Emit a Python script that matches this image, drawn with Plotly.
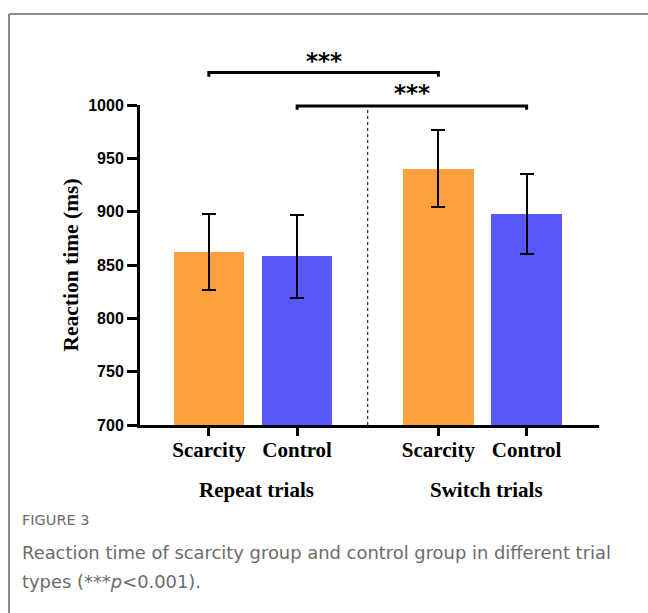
import plotly.graph_objects as go

groups = ["Repeat trials", "Switch trials"]
conditions = ["Scarcity", "Control"]
means = {"Scarcity": [862.5, 940.0], "Control": [858.0, 898.0]}
err_plus = {"Scarcity": [35.5, 37.0], "Control": [39.0, 37.0]}
err_minus = {"Scarcity": [35.5, 35.5], "Control": [38.5, 37.5]}
colors = {"Scarcity": "#FFA040", "Control": "#5858FA"}
y_ticks = [700, 750, 800, 850, 900, 950, 1000]
sig_labels = ["***", "***"]

GROUP_STEP = 2.6
def xpos(g, c):
    return 1 + g * GROUP_STEP + c

fig = go.Figure()
for ci, cond in enumerate(conditions):
    fig.add_trace(go.Bar(
        x=[xpos(g, ci) for g in range(len(groups))],
        y=means[cond],
        width=0.8,
        marker=dict(color=colors[cond], line=dict(width=0)),
        error_y=dict(type="data", array=err_plus[cond], arrayminus=err_minus[cond],
                     symmetric=False, thickness=2, width=7, color="black"),
        showlegend=False,
    ))

ymin, ymax = 700, 1000
def ydom(v):
    return (v - ymin) / (ymax - ymin)

tickvals = [xpos(g, c) for g in range(len(groups)) for c in range(len(conditions))]
ticktext = ["<b>%s</b>" % conditions[c] for g in range(len(groups)) for c in range(len(conditions))]

shapes = []
annotations = []
# significance brackets: scarcity repeat vs scarcity switch, control repeat vs control switch
brackets = [(xpos(0, 0), xpos(1, 0), 1030.5, 1026.5, 1055), (xpos(0, 1), xpos(1, 1), 999, 995.5, 1025)]
for (x0, x1, yl, ye, ya), lab in zip(brackets, sig_labels):
    shapes.append(dict(type="path", xref="x", yref="y domain",
                       path="M %f,%f L %f,%f L %f,%f L %f,%f" % (x0, ydom(ye), x0, ydom(yl), x1, ydom(yl), x1, ydom(ye)),
                       line=dict(color="black", width=3)))
    annotations.append(dict(x=(x0 + x1) / 2, y=ydom(ya), xref="x", yref="y domain", text="<b>%s</b>" % lab,
                            showarrow=False, font=dict(family="DejaVu Sans", size=23, color="black")))

# dotted separator
xsep = (xpos(0, 1) + xpos(1, 0)) / 2
shapes.append(dict(type="line", xref="x", yref="y", x0=xsep, x1=xsep, y0=ymin, y1=ymax,
                   line=dict(color="black", width=1, dash="dot")))

# group labels
for g, name in enumerate(groups):
    annotations.append(dict(x=(xpos(g, 0) + xpos(g, 1)) / 2 + 0.04, y=-0.204, xref="x", yref="paper",
                            text="<b>%s</b>" % name, showarrow=False, yanchor="middle",
                            font=dict(family="Liberation Serif", size=21, color="black")))

# frame border
L, T, W, H = 140, 105, 459, 320
def px(x):
    return (x - L) / W
def py(y):
    return (T + H - y) / H
shapes.append(dict(type="line", xref="paper", yref="paper", x0=px(9), x1=px(660), y0=py(14), y1=py(14),
                   line=dict(color="#8a8a8a", width=2)))
shapes.append(dict(type="line", xref="paper", yref="paper", x0=px(9), x1=px(9), y0=py(14), y1=py(640),
                   line=dict(color="#8a8a8a", width=2)))

# caption
annotations.append(dict(x=px(20), y=py(520), xref="paper", yref="paper", xanchor="left", yanchor="middle",
                        text="FIGURE 3", showarrow=False,
                        font=dict(family="DejaVu Sans", size=14.5, color="#6b6b6b")))
annotations.append(dict(x=px(20), y=py(552), xref="paper", yref="paper", xanchor="left", yanchor="middle",
                        text="Reaction time of scarcity group and control group in different trial",
                        showarrow=False, font=dict(family="DejaVu Sans", size=17.9, color="#6b6b6b")))
annotations.append(dict(x=px(20), y=py(581), xref="paper", yref="paper", xanchor="left", yanchor="middle",
                        text="types (***<i>p</i><0.001).",
                        showarrow=False, font=dict(family="DejaVu Sans", size=17.9, color="#6b6b6b")))

fig.update_layout(
    width=648, height=613,
    margin=dict(l=L, r=648 - L - W, t=T, b=613 - T - H, pad=0),
    paper_bgcolor="white", plot_bgcolor="white",
    shapes=shapes, annotations=annotations,
    bargap=0,
    xaxis=dict(range=[xpos(0, 0) - 0.78, xpos(1, 1) + 0.82], tickvals=tickvals, ticktext=ticktext,
               showline=True, linecolor="black", linewidth=3, ticks="outside", ticklen=8, tickwidth=3,
               tickcolor="black", showgrid=False, zeroline=False, ticklabelstandoff=-4,
               tickfont=dict(family="Liberation Serif", size=21, color="black")),
    yaxis=dict(range=[ymin, ymax], tickvals=y_ticks, showline=True, linecolor="black", linewidth=3,
               ticks="outside", ticklen=10, tickwidth=3, tickcolor="black", showgrid=False, zeroline=False,
               tickfont=dict(family="Liberation Sans", size=16, color="black", weight="bold"),
               title=dict(text="<b>Reaction time (ms)</b>", standoff=4,
                          font=dict(family="Liberation Serif", size=21.5, color="black"))),
)

fig.write_html("out.html")
